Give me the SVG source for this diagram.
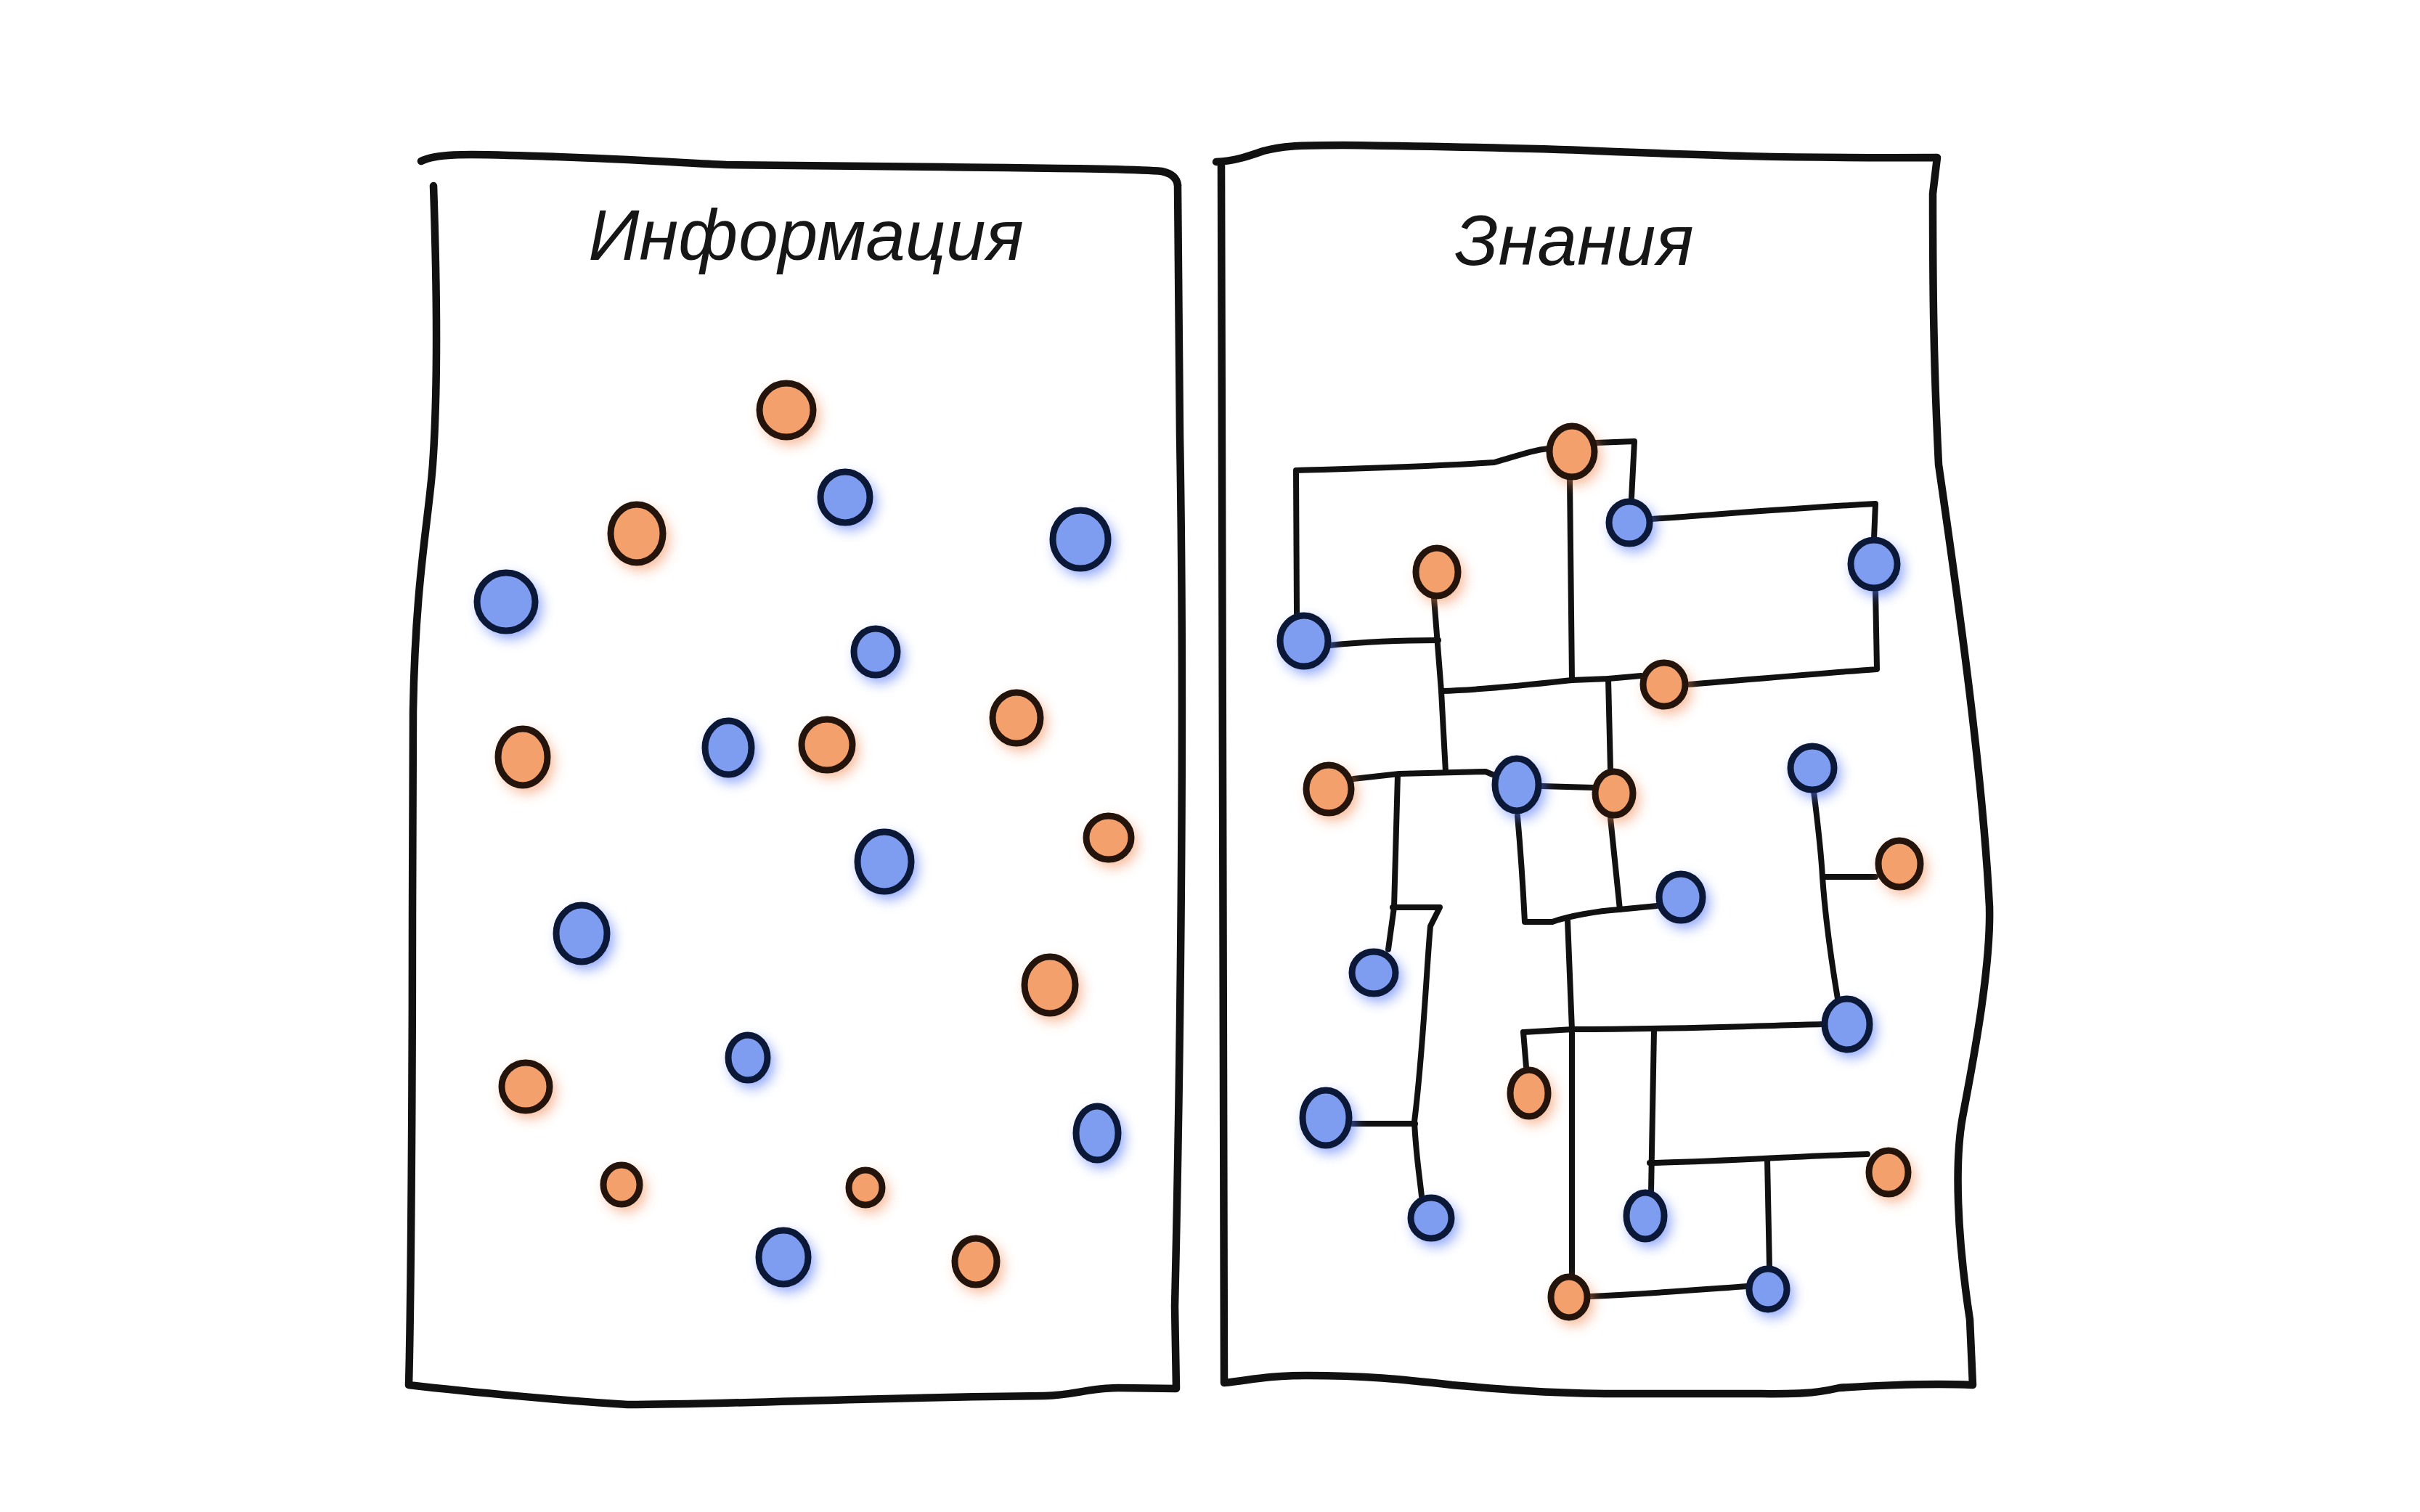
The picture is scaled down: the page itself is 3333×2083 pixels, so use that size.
<svg xmlns="http://www.w3.org/2000/svg" width="3333" height="2083" viewBox="0 0 3333 2083">
<style>
.frame{fill:none;stroke:#111;stroke-width:10.5;stroke-linecap:round;stroke-linejoin:round}
.ln{fill:none;stroke:#111;stroke-width:8;stroke-linecap:round;stroke-linejoin:round}
.o{fill:#F4A06D;stroke:#24140c;stroke-width:9}
.b{fill:#7F9DF0;stroke:#0c1838;stroke-width:9}
.og{fill:#F08A55;opacity:0.6;filter:url(#blur)}
.bg{fill:#4F73F5;opacity:0.65;filter:url(#blur)}
.title{font-family:"Liberation Sans",Arial,sans-serif;font-style:italic;font-size:98px;fill:#161616;text-anchor:middle}
</style>
<defs>
<filter id="blur" x="-50%" y="-50%" width="200%" height="200%"><feGaussianBlur stdDeviation="9"/></filter>
</defs>
<rect width="3333" height="2083" fill="#fff"/>

<g id="panel-info">
<path class="frame" d="M580,222 C600,212 640,212 700,214 C800,216 900,222 1000,227 L1300,230 C1450,232 1560,232 1600,236 Q1620,240 1622,255"/>
<path class="frame" d="M597,256 C602,400 603,540 596,640 C590,720 572,800 569,980 L568,1260 C568,1500 566,1800 563,1908 C650,1918 780,1930 864,1935 C1000,1935 1200,1925 1438,1923 C1480,1922 1500,1912 1540,1912 L1620,1913 L1618,1800 C1625,1500 1632,1000 1625,600 L1622,255"/>
<text class="title" x="1110" y="358">Информация</text>
</g>

<g id="panel-knowledge">
<path class="frame" d="M1675,223 C1700,222 1720,215 1740,208 C1770,200 1800,200 1850,200 C2000,202 2131,205 2200,208 C2350,214 2450,218 2668,217 L2662,267 C2662,400 2663,500 2670,640 C2690,780 2730,1050 2740,1249 C2742,1330 2720,1450 2703,1539 C2692,1600 2695,1700 2713,1818 L2717,1908 C2650,1905 2560,1910 2533,1912 C2490,1922 2461,1920 2400,1920 L2211,1920 C2100,1918 2050,1912 2000,1908 C1930,1900 1880,1895 1800,1895 C1740,1895 1720,1902 1686,1905 L1682,227"/>
<text class="title" x="2168" y="365">Знания</text>
</g>

<g id="connectors">
<path class="ln" d="M1786,845 L1785,648 C1850,646 1950,644 2058,637 C2090,628 2110,620 2133,618"/>
<path class="ln" d="M2198,610 L2251,608 L2247,686"/>
<path class="ln" d="M2162,660 L2165,937"/>
<path class="ln" d="M2275,715 C2400,706 2500,698 2583,694 L2581,742"/>
<path class="ln" d="M2583,812 L2585,922 C2500,928 2400,937 2325,943"/>
<path class="ln" d="M1985,952 C2050,950 2120,942 2165,937 L2215,935 L2260,931"/>
<path class="ln" d="M1975,824 L1985,952 L1991,1063"/>
<path class="ln" d="M1832,889 C1880,884 1940,882 1981,882"/>
<path class="ln" d="M2215,935 L2218,1060"/>
<path class="ln" d="M1864,1073 L1927,1066 L2046,1063 L2058,1068"/>
<path class="ln" d="M2123,1083 L2193,1085"/>
<path class="ln" d="M1925,1068 L1920,1250 L1912,1308"/>
<path class="ln" d="M1918,1250 L1983,1250 L1970,1276 C1965,1330 1960,1450 1948,1545 C1950,1590 1955,1620 1958,1648"/>
<path class="ln" d="M1862,1548 L1949,1548"/>
<path class="ln" d="M2090,1124 C2095,1180 2098,1230 2100,1270 L2138,1270 C2160,1262 2200,1255 2230,1253 L2282,1248"/>
<path class="ln" d="M2218,1127 L2231,1253"/>
<path class="ln" d="M2159,1268 L2165,1419 L2165,1756"/>
<path class="ln" d="M2098,1422 L2166,1418 C2300,1418 2400,1414 2510,1411"/>
<path class="ln" d="M2098,1422 L2102,1470"/>
<path class="ln" d="M2278,1420 L2274,1642"/>
<path class="ln" d="M2272,1602 C2380,1600 2480,1592 2572,1590"/>
<path class="ln" d="M2434,1597 L2437,1746"/>
<path class="ln" d="M2190,1786 C2280,1782 2350,1776 2406,1772"/>
<path class="ln" d="M2498,1090 C2503,1130 2508,1170 2510,1208 C2515,1280 2525,1340 2531,1376"/>
<path class="ln" d="M2510,1208 L2583,1208"/>
</g>

<g id="info-dots">
<g id="i1"><ellipse class="og" cx="1089" cy="573" rx="40" ry="40"/><ellipse class="o" cx="1083" cy="565" rx="37" ry="37"/></g>
<g id="i2"><ellipse class="bg" cx="1170" cy="693" rx="37" ry="37"/><ellipse class="b" cx="1164" cy="685" rx="34" ry="35"/></g>
<g id="i3"><ellipse class="og" cx="883" cy="743" rx="39" ry="43"/><ellipse class="o" cx="877" cy="735" rx="36" ry="40"/></g>
<g id="i4"><ellipse class="bg" cx="1494" cy="751" rx="41" ry="43"/><ellipse class="b" cx="1488" cy="743" rx="38" ry="40"/></g>
<g id="i5"><ellipse class="bg" cx="703" cy="837" rx="43" ry="43"/><ellipse class="b" cx="697" cy="829" rx="40" ry="40"/></g>
<g id="i6"><ellipse class="bg" cx="1212" cy="906" rx="33" ry="35"/><ellipse class="b" cx="1206" cy="898" rx="30" ry="32"/></g>
<g id="i7"><ellipse class="og" cx="726" cy="1051" rx="37" ry="42"/><ellipse class="o" cx="720" cy="1043" rx="34" ry="39"/></g>
<g id="i8"><ellipse class="bg" cx="1009" cy="1038" rx="35" ry="40"/><ellipse class="b" cx="1003" cy="1030" rx="32" ry="37"/></g>
<g id="i9"><ellipse class="og" cx="1145" cy="1034" rx="38" ry="38"/><ellipse class="o" cx="1139" cy="1026" rx="35" ry="35"/></g>
<g id="i10"><ellipse class="og" cx="1406" cy="997" rx="36" ry="38"/><ellipse class="o" cx="1400" cy="989" rx="33" ry="35"/></g>
<g id="i11"><ellipse class="og" cx="1533" cy="1162" rx="34" ry="33"/><ellipse class="o" cx="1527" cy="1154" rx="31" ry="30"/></g>
<g id="i12"><ellipse class="bg" cx="1224" cy="1195" rx="40" ry="44"/><ellipse class="b" cx="1218" cy="1187" rx="37" ry="41"/></g>
<g id="i13"><ellipse class="bg" cx="807" cy="1294" rx="38" ry="42"/><ellipse class="b" cx="801" cy="1286" rx="35" ry="39"/></g>
<g id="i14"><ellipse class="og" cx="1452" cy="1365" rx="38" ry="42"/><ellipse class="o" cx="1446" cy="1357" rx="35" ry="39"/></g>
<g id="i15"><ellipse class="og" cx="730" cy="1505" rx="36" ry="36"/><ellipse class="o" cx="724" cy="1497" rx="33" ry="33"/></g>
<g id="i16"><ellipse class="bg" cx="1036" cy="1465" rx="30" ry="34"/><ellipse class="b" cx="1030" cy="1457" rx="27" ry="31"/></g>
<g id="i17"><ellipse class="bg" cx="1517" cy="1569" rx="32" ry="40"/><ellipse class="b" cx="1511" cy="1561" rx="29" ry="37"/></g>
<g id="i18"><ellipse class="og" cx="862" cy="1640" rx="28" ry="30"/><ellipse class="o" cx="856" cy="1632" rx="25" ry="27"/></g>
<g id="i19"><ellipse class="og" cx="1198" cy="1644" rx="26" ry="27"/><ellipse class="o" cx="1192" cy="1636" rx="23" ry="24"/></g>
<g id="i20"><ellipse class="bg" cx="1085" cy="1740" rx="37" ry="40"/><ellipse class="b" cx="1079" cy="1732" rx="34" ry="37"/></g>
<g id="i21"><ellipse class="og" cx="1350" cy="1746" rx="32" ry="35"/><ellipse class="o" cx="1344" cy="1738" rx="29" ry="32"/></g>
</g>

<g id="knowledge-nodes">
<g id="kA"><ellipse class="og" cx="2171" cy="630" rx="34" ry="38"/><ellipse class="o" cx="2165" cy="622" rx="31" ry="35"/></g>
<g id="kB"><ellipse class="bg" cx="2250" cy="728" rx="31" ry="32"/><ellipse class="b" cx="2244" cy="720" rx="28" ry="29"/></g>
<g id="kC"><ellipse class="bg" cx="2587" cy="785" rx="35" ry="36"/><ellipse class="b" cx="2581" cy="777" rx="32" ry="33"/></g>
<g id="kD"><ellipse class="og" cx="1985" cy="796" rx="32" ry="36"/><ellipse class="o" cx="1979" cy="788" rx="29" ry="33"/></g>
<g id="kE"><ellipse class="bg" cx="1802" cy="891" rx="36" ry="38"/><ellipse class="b" cx="1796" cy="883" rx="33" ry="35"/></g>
<g id="kF"><ellipse class="og" cx="2298" cy="951" rx="32" ry="33"/><ellipse class="o" cx="2292" cy="943" rx="29" ry="30"/></g>
<g id="kG"><ellipse class="og" cx="1836" cy="1095" rx="34" ry="36"/><ellipse class="o" cx="1830" cy="1087" rx="31" ry="33"/></g>
<g id="kH"><ellipse class="bg" cx="2095" cy="1089" rx="33" ry="39"/><ellipse class="b" cx="2089" cy="1081" rx="30" ry="36"/></g>
<g id="kI"><ellipse class="og" cx="2229" cy="1101" rx="29" ry="33"/><ellipse class="o" cx="2223" cy="1093" rx="26" ry="30"/></g>
<g id="kJ"><ellipse class="bg" cx="2502" cy="1066" rx="33" ry="33"/><ellipse class="b" cx="2496" cy="1058" rx="30" ry="30"/></g>
<g id="kK"><ellipse class="og" cx="2622" cy="1198" rx="32" ry="35"/><ellipse class="o" cx="2616" cy="1190" rx="29" ry="32"/></g>
<g id="kL"><ellipse class="bg" cx="2321" cy="1244" rx="33" ry="35"/><ellipse class="b" cx="2315" cy="1236" rx="30" ry="32"/></g>
<g id="kM"><ellipse class="bg" cx="1898" cy="1348" rx="33" ry="32"/><ellipse class="b" cx="1892" cy="1340" rx="30" ry="29"/></g>
<g id="kN"><ellipse class="bg" cx="2550" cy="1419" rx="34" ry="38"/><ellipse class="b" cx="2544" cy="1411" rx="31" ry="35"/></g>
<g id="kO"><ellipse class="og" cx="2112" cy="1514" rx="29" ry="35"/><ellipse class="o" cx="2106" cy="1506" rx="26" ry="32"/></g>
<g id="kP"><ellipse class="bg" cx="1832" cy="1548" rx="35" ry="41"/><ellipse class="b" cx="1826" cy="1540" rx="32" ry="38"/></g>
<g id="kQ"><ellipse class="og" cx="2607" cy="1623" rx="30" ry="33"/><ellipse class="o" cx="2601" cy="1615" rx="27" ry="30"/></g>
<g id="kR"><ellipse class="bg" cx="1977" cy="1686" rx="31" ry="31"/><ellipse class="b" cx="1971" cy="1678" rx="28" ry="28"/></g>
<g id="kS"><ellipse class="bg" cx="2272" cy="1683" rx="29" ry="35"/><ellipse class="b" cx="2266" cy="1675" rx="26" ry="32"/></g>
<g id="kT"><ellipse class="og" cx="2167" cy="1795" rx="28" ry="31"/><ellipse class="o" cx="2161" cy="1787" rx="25" ry="28"/></g>
<g id="kU"><ellipse class="bg" cx="2441" cy="1784" rx="29" ry="31"/><ellipse class="b" cx="2435" cy="1776" rx="26" ry="28"/></g>
</g>
</svg>
